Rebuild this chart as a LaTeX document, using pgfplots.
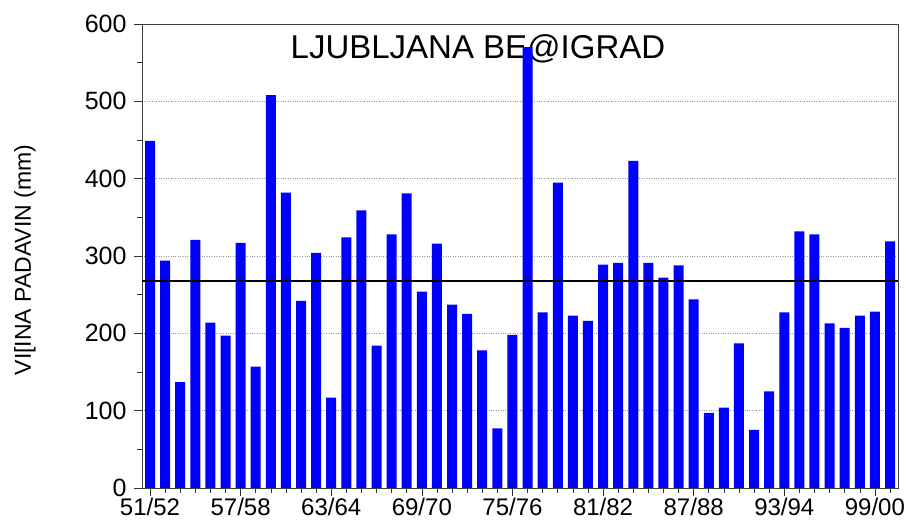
\documentclass[border=0pt]{standalone}
\usepackage{fontspec}
\setmainfont{Liberation Sans}
\usepackage{pgfplots}
\pgfplotsset{compat=1.18}
\usepackage{pgfplotstable}
\definecolor{barblue}{RGB}{0,0,255}
\pgfplotstableread{
x y
0 449
1 294
2 137
3 321
4 214
5 197
6 317
7 157
8 508
9 382
10 242
11 304
12 117
13 324
14 359
15 184
16 328
17 381
18 254
19 316
20 237
21 225
22 178
23 77
24 198
25 570
26 227
27 395
28 223
29 216
30 289
31 291
32 423
33 291
34 272
35 288
36 244
37 97
38 104
39 187
40 75
41 125
42 227
43 332
44 328
45 213
46 207
47 223
48 228
49 319
}\datatable
\begin{document}
\begin{tikzpicture}
\node[font=\fontsize{33bp}{38bp}\selectfont, anchor=center] at (336bp,439bp) {LJUBLJANA BE@IGRAD};
\begin{axis}[
  at={(0,0)}, anchor=south west,
  scale only axis,
  width=756bp, height=464bp,
  xmin=-0.53, xmax=49.53,
  ymin=0, ymax=600,
  xtick={0,6,...,48},
  xticklabels={51/52,57/58,63/64,69/70,75/76,81/82,87/88,93/94,99/00},
  minor xtick={0,...,49},
  ytick={0,100,...,600},
  minor ytick={50,150,...,550},
  tick align=outside,
  xtick pos=bottom, ytick pos=left,
  major tick length=8bp,
  minor tick length=5bp,
  every tick/.style={black!80, line width=0.6pt},
  ymajorgrids,
  grid style={gray!80, dotted, line width=0.6pt},
  axis line style={black!75, line width=0.8pt},
  /pgf/number format/assume math mode=true,
  yticklabel style={font=\fontsize{25bp}{30bp}\selectfont, xshift=-4bp, inner ysep=0pt},
  xticklabel style={font=\fontsize{24bp}{29bp}\selectfont, yshift=-1bp, inner ysep=1bp},
]
\addplot[ybar, bar width=10bp, fill=barblue, draw=none] table[x=x,y=y] {\datatable};
\addplot[black, line width=1.6pt, sharp plot] coordinates {(-0.53,268) (49.53,268)};
\end{axis}
\node[rotate=90, font=\fontsize{23bp}{28bp}\selectfont, anchor=center] at (-117bp,228bp) {VI[INA PADAVIN (mm)};
\pgfresetboundingbox
\path[use as bounding box] (-142bp,-33bp) rectangle (764bp,488bp);
\end{tikzpicture}
\end{document}
